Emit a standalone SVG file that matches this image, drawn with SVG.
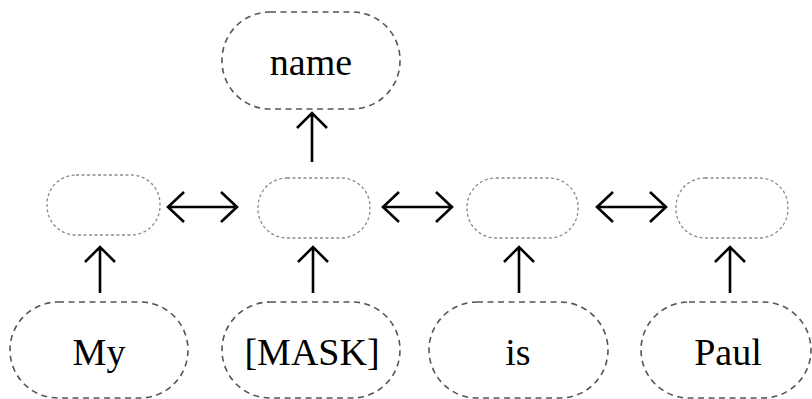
<svg xmlns="http://www.w3.org/2000/svg" width="812" height="399" viewBox="0 0 812 399">
<style>
.big{fill:#fff;stroke:#555;stroke-width:1.6;stroke-dasharray:6 4.5}
.small{fill:#fff;stroke:#8a8a8a;stroke-width:1.3;stroke-dasharray:3 2.5}
.lbl{font-family:"Liberation Serif","Times New Roman",serif;font-size:38px;fill:#000;text-anchor:middle}
.ar{fill:none;stroke:#000;stroke-width:2.6;stroke-linecap:butt;stroke-linejoin:miter}
</style>
<g id="connectors">
<path class="ar" d="M312 162V114M297 128L312 113L327 128"/>
<path class="ar" d="M100 293V248M85 262L100 247L115 262"/>
<path class="ar" d="M313 293V248M298 262L313 247L328 262"/>
<path class="ar" d="M519 293V248M504 262L519 247L534 262"/>
<path class="ar" d="M730 293V248M715 262L730 247L745 262"/>
<path class="ar" d="M168 207H237M184 192L168 207L184 222M221 192L237 207L221 222"/>
<path class="ar" d="M383 207H452M399 192L383 207L399 222M436 192L452 207L436 222"/>
<path class="ar" d="M597 207H666M613 192L597 207L613 222M650 192L666 207L650 222"/>
</g>
<g id="node-name"><rect class="big" x="222" y="12" width="178" height="97" rx="48"/><text class="lbl" x="311" y="75">name</text></g>
<g id="node-h1"><rect class="small" x="47" y="175" width="113" height="60" rx="29"/></g>
<g id="node-h2"><rect class="small" x="258" y="178" width="112" height="60" rx="29"/></g>
<g id="node-h3"><rect class="small" x="467" y="178" width="111" height="60" rx="29"/></g>
<g id="node-h4"><rect class="small" x="676" y="178" width="112" height="60" rx="29"/></g>
<g id="node-my"><rect class="big" x="10" y="302" width="178" height="96" rx="48"/><text class="lbl" x="99" y="365">My</text></g>
<g id="node-mask"><rect class="big" x="222" y="302" width="178" height="96" rx="48"/><text class="lbl" x="312" y="365">[MASK]</text></g>
<g id="node-is"><rect class="big" x="429" y="302" width="179" height="96" rx="48"/><text class="lbl" x="518" y="365">is</text></g>
<g id="node-paul"><rect class="big" x="641" y="302" width="170" height="96" rx="48"/><text class="lbl" x="728" y="365">Paul</text></g>
</svg>
